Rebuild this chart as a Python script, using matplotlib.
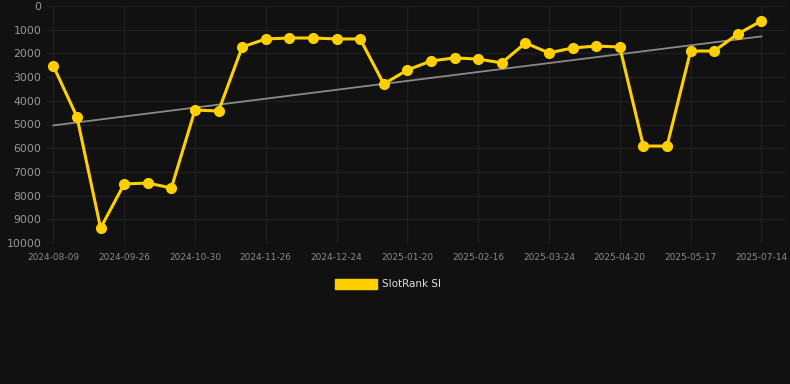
import numpy as np
import matplotlib.pyplot as plt
from matplotlib.patches import Patch

# SlotRank SI over time (lower = better, axis inverted)
ranks = [2530, 4680, 9370, 7510, 7470, 7680, 4390, 4430, 1730, 1390, 1350,
         1350, 1390, 1390, 3290, 2700, 2320, 2190, 2240, 2400, 1560, 1980,
         1770, 1690, 1730, 5910, 5910, 1900, 1900, 1180, 630]
tick_labels = ['2024-08-09', '2024-09-26', '2024-10-30', '2024-11-26',
               '2024-12-24', '2025-01-20', '2025-02-16', '2025-03-24',
               '2025-04-20', '2025-05-17', '2025-07-14']
y_ticks = list(range(0, 10001, 1000))

bg = '#111111'
yellow = '#ffd000'

fig = plt.figure(figsize=(7.9, 3.84), dpi=100, facecolor=bg)
ax = fig.add_axes([47 / 790, 1 - 243 / 384, 738 / 790, 237 / 384])
ax.set_facecolor(bg)

x = np.arange(len(ranks))

# trend line
k, b = np.polyfit(x, ranks, 1)
ax.plot(x, k * x + b, color='#8a8a8a', lw=1.3, zorder=2)

ax.plot(x, ranks, color=yellow, lw=2.2, marker='o', ms=7, zorder=3)

ax.set_ylim(10000, 0)
ax.set_xlim(-0.27, 31.0)
ax.set_yticks(y_ticks)
ax.set_yticklabels([str(v) for v in y_ticks])
ax.set_xticks(x[::3])
ax.set_xticklabels(tick_labels)

ax.grid(True, color='#1f1f1f', lw=1)
for s in ax.spines.values():
    s.set_visible(False)
ax.tick_params(axis='y', length=0, colors='#9a9a9a', labelsize=7.8, pad=4)
ax.tick_params(axis='x', length=0, colors='#8a8a8a', labelsize=6.5, pad=7)

fig.legend(handles=[Patch(facecolor=yellow, edgecolor=yellow)], labels=['SlotRank SI'],
           loc='center', bbox_to_anchor=(388 / 790, 1 - 284 / 384), frameon=False,
           labelcolor='#dddddd', fontsize=7.5, handlelength=4, handleheight=1.1,
           handletextpad=0.5)

fig.savefig('out.png', dpi=100, facecolor=bg)
